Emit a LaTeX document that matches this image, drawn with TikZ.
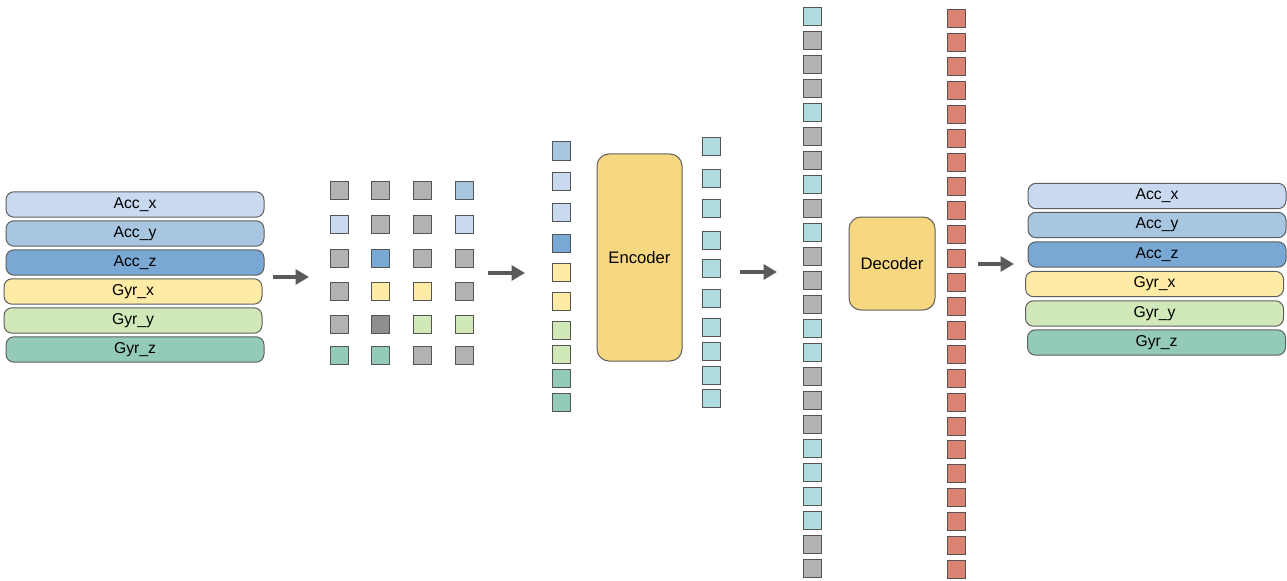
\documentclass[tikz,border=0pt]{standalone}
\usepackage{fontspec}
\setmainfont{Liberation Sans}
\usetikzlibrary{arrows.meta}
\definecolor{accx}{HTML}{C9D9EF}
\definecolor{accy}{HTML}{A8C6E0}
\definecolor{accz}{HTML}{7AA8D4}
\definecolor{gyrx}{HTML}{FDEBA6}
\definecolor{gyry}{HTML}{D1E8B9}
\definecolor{gyrz}{HTML}{93CAB8}
\definecolor{gr}{HTML}{B2B2B2}
\definecolor{dg}{HTML}{8F8F8F}
\definecolor{tl}{HTML}{B1DCDF}
\definecolor{rd}{HTML}{DC8273}
\definecolor{blk}{HTML}{F7D880}
\definecolor{bordc}{HTML}{5E5E5E}
\definecolor{sqb}{HTML}{555555}
\definecolor{arrowc}{HTML}{5A5A5A}
\begin{document}
\begin{tikzpicture}[x=0.75pt,y=-0.75pt,
  bar/.style={draw=bordc, line width=0.75pt, rounded corners=6pt, minimum width=193.5pt, minimum height=19pt, inner sep=0pt, font=\fontsize{11.8}{14}\selectfont},
  sq/.style={draw=sqb, line width=0.75pt, minimum size=13.5pt, inner sep=0pt},
  block/.style={draw=bordc, fill=blk, line width=0.75pt, rounded corners=9pt, inner sep=0pt, font=\fontsize{12.5}{15}\selectfont},
  flow/.style={draw=arrowc, line width=3pt, -{Triangle[length=10pt,width=11pt]}}]
\useasboundingbox (0,0) rectangle (1287,581);
\fill[white] (0,0) rectangle (1287,581);
% left stack
\node[bar, fill=accx] (lax) at (135,204.5) {Acc\_x};
\node[bar, fill=accy] (lay) at (135,233.5) {Acc\_y};
\node[bar, fill=accz] (laz) at (135,262.5) {Acc\_z};
\node[bar, fill=gyrx] (lgx) at (133,291.5) {Gyr\_x};
\node[bar, fill=gyry] (lgy) at (133,320.5) {Gyr\_y};
\node[bar, fill=gyrz] (lgz) at (135,349.5) {Gyr\_z};
% grid
\foreach \c [count=\k] in {gr,gr,gr,accy} \node[sq,fill=\c] (ga\k) at ({339+41.67*(\k-1)},190.5) {};
\foreach \c [count=\k] in {accx,gr,gr,accx} \node[sq,fill=\c] (gb\k) at ({339+41.67*(\k-1)},224.5) {};
\foreach \c [count=\k] in {gr,accz,gr,gr} \node[sq,fill=\c] (gc\k) at ({339+41.67*(\k-1)},258) {};
\foreach \c [count=\k] in {gr,gyrx,gyrx,gr} \node[sq,fill=\c] (gd\k) at ({339+41.67*(\k-1)},291.5) {};
\foreach \c [count=\k] in {gr,dg,gyry,gyry} \node[sq,fill=\c] (ge\k) at ({339+41.67*(\k-1)},324) {};
\foreach \c [count=\k] in {gyrz,gyrz,gr,gr} \node[sq,fill=\c] (gf\k) at ({339+41.67*(\k-1)},355.5) {};
% patch column
\foreach \y/\c [count=\i] in {151/accy,181/accx,212.5/accx,243/accz,272.5/gyrx,301.5/gyrx,330/gyry,354.5/gyry,378.5/gyrz,402.5/gyrz}
  \node[sq,fill=\c] (p\i) at (561,\y) {};
% encoder
\node[block, minimum width=63.75pt, minimum height=155.25pt] (enc) at (639.5,257.5) {Encoder};
% encoder output
\foreach \y [count=\i] in {147,178.5,208.5,240.5,268.5,298,327.5,351.5,375.5,398.5}
  \node[sq,fill=tl] (e\i) at (711.5,\y) {};
% masked sequence
\foreach \c [count=\i] in {tl,gr,gr,gr,tl,gr,gr,tl,gr,tl,gr,gr,gr,tl,tl,gr,gr,gr,tl,tl,tl,tl,gr,gr}
  \node[sq,fill=\c] (m\i) at (812.5,{17+23.96*(\i-1)}) {};
% decoder
\node[block, minimum width=64.5pt, minimum height=69.75pt] (dec) at (892,263.5) {Decoder};
% reconstructed
\foreach \i in {1,...,24}
  \node[sq,fill=rd] (r\i) at (956.5,{18.7+23.96*(\i-1)}) {};
% right stack
\node[bar, fill=accx] (rax) at (1157,196) {Acc\_x};
\node[bar, fill=accy] (ray) at (1157,225) {Acc\_y};
\node[bar, fill=accz] (raz) at (1157,254.5) {Acc\_z};
\node[bar, fill=gyrx] (rgx) at (1154.5,284) {Gyr\_x};
\node[bar, fill=gyry] (rgy) at (1154.5,313.5) {Gyr\_y};
\node[bar, fill=gyrz] (rgz) at (1156.5,342.5) {Gyr\_z};
% arrows
\coordinate (a1s) at (273,277); \coordinate (a1e) at (309,277);
\coordinate (a2s) at (488,273); \coordinate (a2e) at (525,273);
\coordinate (a3s) at (740,272); \coordinate (a3e) at (777,272);
\coordinate (a4s) at (978,264); \coordinate (a4e) at (1014,264);
\draw[flow] (a1s) -- (a1e);
\draw[flow] (a2s) -- (a2e);
\draw[flow] (a3s) -- (a3e);
\draw[flow] (a4s) -- (a4e);
\end{tikzpicture}
\end{document}
